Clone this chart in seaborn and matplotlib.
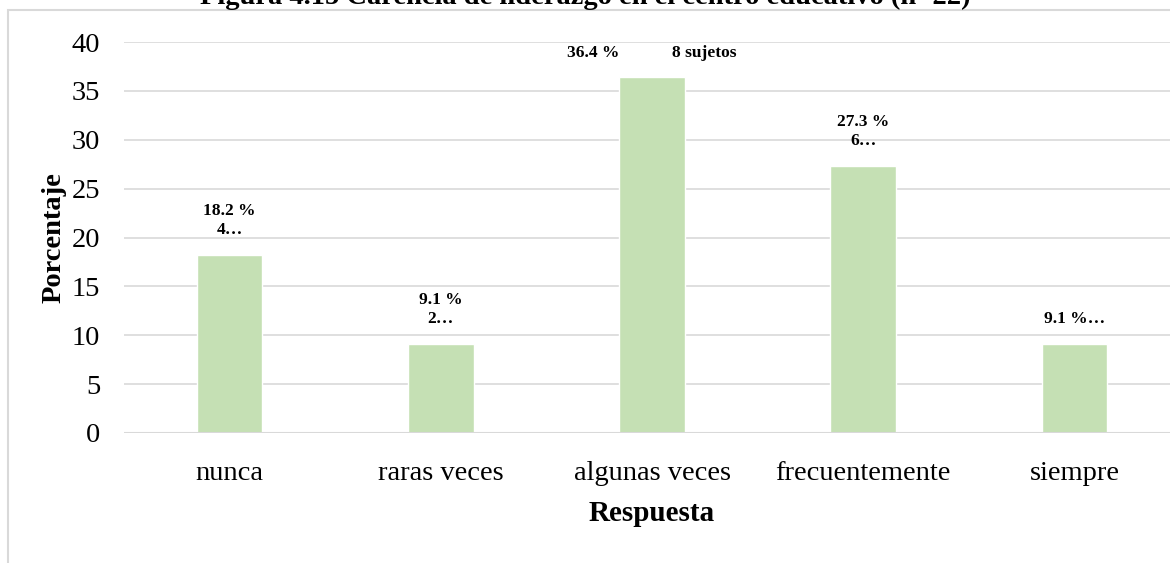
import matplotlib
matplotlib.use("Agg")
import matplotlib.pyplot as plt
import seaborn as sns
import pandas as pd
from matplotlib.patches import Rectangle

# Data
categories = ["nunca", "raras veces", "algunas veces", "frecuentemente", "siempre"]
percentages = [18.2, 9.1, 36.4, 27.3, 9.1]
bar_labels = ["18.2 %\n4…", "9.1 %\n2…", "36.4 %            8 sujetos", "27.3 %\n6…", "9.1 %…"]
y_ticks = [0, 5, 10, 15, 20, 25, 30, 35, 40]
title = "Figura 4.15 Carencia de liderazgo en el centro educativo (n=22)"

sns.set_theme(style="white")
plt.rcParams["font.family"] = ["Liberation Serif", "DejaVu Serif"]
plt.rcParams["text.color"] = "black"
plt.rcParams["axes.labelcolor"] = "black"

W, H = 1170, 563
fig = plt.figure(figsize=(W / 100, H / 100), dpi=100)
fig.patch.set_facecolor("white")

# chart area border (clipped on the right and bottom like the source)
fig.add_artist(Rectangle((7.5 / W, -0.1), 1.2, 1.1 - 9.5 / H,
                         transform=fig.transFigure, fill=False,
                         edgecolor="#d9d9d9", linewidth=1.5))

ax = fig.add_axes([124 / W, 130 / H, 1056 / W, 391 / H])
df = pd.DataFrame({"Respuesta": categories, "Porcentaje": percentages})
sns.barplot(data=df, x="Respuesta", y="Porcentaje", color="#c5e0b4",
            saturation=1, width=0.31, ax=ax, zorder=3)

ax.set_xlim(-0.5, 4.5)
ax.set_ylim(0, 40)
ax.set_yticks(y_ticks)
ax.yaxis.grid(True, color="#d9d9d9", linewidth=1.2, zorder=0)
ax.axhline(0, color="#d9d9d9", linewidth=1.5, zorder=4)
for s in ax.spines.values():
    s.set_visible(False)
ax.tick_params(axis="y", length=0, pad=17, labelsize=20.5, colors="black")
ax.tick_params(axis="x", length=0, pad=20, labelsize=20.5, colors="black")
ax.set_xlabel("Respuesta", fontsize=21, fontweight="bold", labelpad=10)
ax.set_ylabel("Porcentaje", fontsize=20.5, fontweight="bold", labelpad=4)

for i, (v, lab) in enumerate(zip(percentages, bar_labels)):
    ax.annotate(lab, (i, v), xytext=(0, 12), textcoords="offset points",
                ha="center", va="bottom", fontsize=12.5, fontweight="bold",
                linespacing=1.3, zorder=5, color="black")

fig.text(0.5, 1 - 4 / H, title, ha="center", va="baseline",
         fontsize=20.5, fontweight="bold", color="black")

fig.savefig("out.png", dpi=100, facecolor="white")
